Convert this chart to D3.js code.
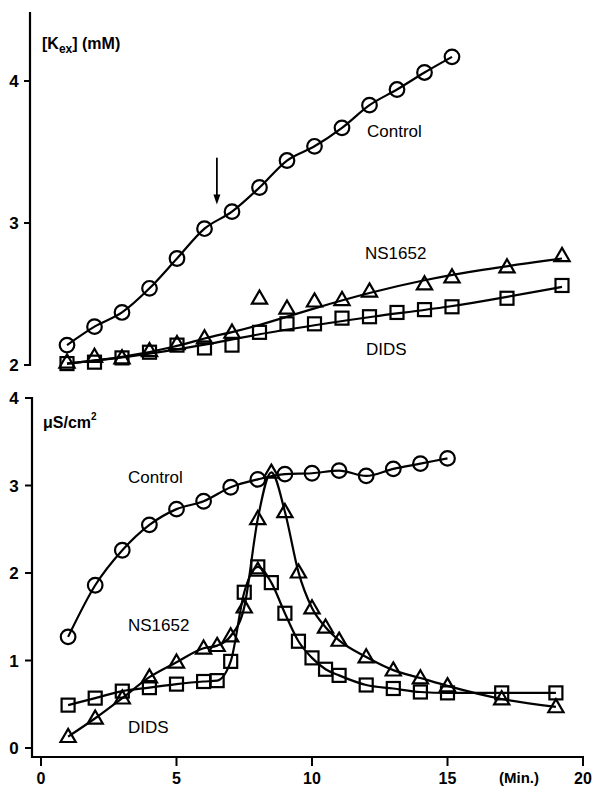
<!DOCTYPE html>
<html>
<head>
<meta charset="utf-8">
<script src="https://cdn.jsdelivr.net/npm/d3@7"></script>
<style>
  body { margin: 0; background: #fff; }
  text { font-family: "Liberation Sans", Arial, sans-serif; fill: #000; }
</style>
</head>
<body>
<svg id="chart"></svg>
<script>
// ---- data (top panel: [Kex], mM) ----
const topCtrlX = [1,2,3,4,5,6,7,8,9,10,11,12,13,14,15];
const topCtrlY = [2.14,2.27,2.37,2.54,2.75,2.96,3.08,3.25,3.44,3.54,3.67,3.83,3.94,4.06,4.17];
const topNsX = [1,2,3,4,5,6,7,8,9,10,11,12,14,15,17,19];
const topNsY = [2.02,2.06,2.05,2.10,2.15,2.19,2.23,2.47,2.40,2.45,2.46,2.52,2.57,2.62,2.69,2.77];
const topDidsX = [1,2,3,4,5,6,7,8,9,10,11,12,13,14,15,17,19];
const topDidsY = [2.01,2.02,2.05,2.09,2.14,2.12,2.14,2.23,2.29,2.29,2.33,2.34,2.37,2.39,2.41,2.47,2.56];
// fitted curves drawn in the top panel
const fitNsX = [1,3,5,6,7,8,10,12,14,16,19];
const fitNsY = [2.01,2.05,2.13,2.19,2.23,2.28,2.40,2.51,2.60,2.67,2.75];
const fitDidsX = [1,3,5,6,8,10,12,15,17,19];
const fitDidsY = [2.01,2.05,2.11,2.14,2.22,2.28,2.34,2.41,2.48,2.55];
// arrow (time of drug addition)
const arrowX = 6.45;
const arrowY = [3.46, 3.13];

// ---- data (bottom panel: conductance, uS/cm2) ----
const botCtrlX = [1,2,3,4,5,6,7,8,9,10,11,12,13,14,15];
const botCtrlY = [1.27,1.86,2.26,2.55,2.73,2.82,2.98,3.07,3.13,3.14,3.17,3.11,3.19,3.25,3.31];
const botNsX = [1,2,3,4,5,6,6.5,7,7.5,8,8.5,9,9.5,10,10.5,11,12,13,14,15,17,19];
const botNsY = [0.13,0.34,0.57,0.81,0.98,1.14,1.17,1.28,1.61,2.62,3.15,2.70,2.01,1.60,1.38,1.23,1.04,0.89,0.80,0.71,0.56,0.47];
const botDidsX = [1,2,3,4,5,6,6.5,7,7.5,8,8.5,9,9.5,10,10.5,11,12,13,14,15,17,19];
const botDidsY = [0.49,0.57,0.65,0.69,0.73,0.76,0.77,0.99,1.78,2.07,1.89,1.54,1.22,1.03,0.90,0.83,0.72,0.68,0.64,0.63,0.63,0.63];
const botExtraTriX = [8];
const botExtraTriY = [2.03];

const xTicks = [0,5,10,15,20];
const topYTicks = [2,3,4];
const botYTicks = [0,1,2,3,4];

const W = 596, H = 790;
const svg = d3.select("#chart").attr("width", W).attr("height", H);

const zip = (xs, ys) => xs.map((x, i) => [x, ys[i]]);

// scales
const xTop = d3.scaleLinear().domain([0, 20]).range([39.5, 589.5]);
const yTop = d3.scaleLinear().domain([2, 4]).range([365, 81]);
const xBot = d3.scaleLinear().domain([0, 20]).range([41, 583]);
const yBot = d3.scaleLinear().domain([0, 4]).range([748, 398]);

// markers
function drawMarkers(g, pts, x, y, shape) {
  const sel = g.append("g").selectAll("path").data(pts).enter();
  if (shape === "circle") {
    sel.append("circle")
      .attr("cx", d => x(d[0])).attr("cy", d => y(d[1])).attr("r", 7.3)
      .attr("fill", "none").attr("stroke", "#000").attr("stroke-width", 2.2);
  } else if (shape === "square") {
    sel.append("rect")
      .attr("x", d => x(d[0]) - 6.5).attr("y", d => y(d[1]) - 6.5)
      .attr("width", 13).attr("height", 13)
      .attr("fill", "none").attr("stroke", "#000").attr("stroke-width", 2.2);
  } else {
    sel.append("path")
      .attr("d", d3.symbol(d3.symbolTriangle, 100))
      .attr("transform", d => `translate(${x(d[0])},${y(d[1]) + 1})`)
      .attr("fill", "none").attr("stroke", "#000").attr("stroke-width", 2.2);
  }
}

function drawLine(g, pts, x, y, curve) {
  g.append("path")
    .datum(pts)
    .attr("d", d3.line().x(d => x(d[0])).y(d => y(d[1])).curve(curve))
    .attr("fill", "none").attr("stroke", "#000").attr("stroke-width", 2.2);
}

// ---------- top panel ----------
const gTop = svg.append("g");

gTop.append("line").attr("x1", 30).attr("x2", 30).attr("y1", 12).attr("y2", 366)
  .attr("stroke", "#000").attr("stroke-width", 2.2);
gTop.selectAll(".tt").data(topYTicks).enter().append("line")
  .attr("x1", 24).attr("x2", 30).attr("y1", d => yTop(d)).attr("y2", d => yTop(d))
  .attr("stroke", "#000").attr("stroke-width", 2);
gTop.selectAll(".tl").data(topYTicks).enter().append("text")
  .attr("x", 14).attr("y", d => yTop(d) + 6)
  .attr("text-anchor", "middle").attr("font-size", 17).attr("font-weight", "bold")
  .text(d => d);

const kLabel = gTop.append("text").attr("x", 42).attr("y", 49)
  .attr("font-size", 16).attr("font-weight", "bold");
kLabel.append("tspan").text("[K");
kLabel.append("tspan").attr("font-size", 12).attr("dy", 4).text("ex");
kLabel.append("tspan").attr("dy", -4).text("] (mM)");

drawLine(gTop, zip(topCtrlX, topCtrlY), xTop, yTop, d3.curveMonotoneX);
drawLine(gTop, zip(fitNsX, fitNsY), xTop, yTop, d3.curveBasis);
drawLine(gTop, zip(fitDidsX, fitDidsY), xTop, yTop, d3.curveBasis);
drawMarkers(gTop, zip(topCtrlX, topCtrlY), xTop, yTop, "circle");
drawMarkers(gTop, zip(topDidsX, topDidsY), xTop, yTop, "square");
drawMarkers(gTop, zip(topNsX, topNsY), xTop, yTop, "triangle");

// arrow
gTop.append("line")
  .attr("x1", xTop(arrowX)).attr("x2", xTop(arrowX))
  .attr("y1", yTop(arrowY[0])).attr("y2", yTop(arrowY[1]) - 8)
  .attr("stroke", "#000").attr("stroke-width", 1.8);
gTop.append("path")
  .attr("d", `M${xTop(arrowX) - 3.5},${yTop(arrowY[1]) - 10} L${xTop(arrowX) + 3.5},${yTop(arrowY[1]) - 10} L${xTop(arrowX)},${yTop(arrowY[1])} Z`)
  .attr("fill", "#000");

gTop.append("text").attr("x", 367).attr("y", 137).attr("font-size", 17).text("Control");
gTop.append("text").attr("x", 365).attr("y", 259).attr("font-size", 17).text("NS1652");
gTop.append("text").attr("x", 366).attr("y", 355).attr("font-size", 17).text("DIDS");

// ---------- bottom panel ----------
const gBot = svg.append("g");

gBot.append("line").attr("x1", 32).attr("x2", 32).attr("y1", 397).attr("y2", 758)
  .attr("stroke", "#000").attr("stroke-width", 2.2);
gBot.append("line").attr("x1", 31).attr("x2", xBot(20) + 1).attr("y1", 757).attr("y2", 757)
  .attr("stroke", "#000").attr("stroke-width", 2.2);
gBot.selectAll(".yt").data(botYTicks).enter().append("line")
  .attr("x1", 25).attr("x2", 32).attr("y1", d => yBot(d)).attr("y2", d => yBot(d))
  .attr("stroke", "#000").attr("stroke-width", 2);
gBot.selectAll(".yl").data(botYTicks).enter().append("text")
  .attr("x", 14).attr("y", d => yBot(d) + 6)
  .attr("text-anchor", "middle").attr("font-size", 17).attr("font-weight", "bold")
  .text(d => d);
gBot.selectAll(".xt").data(xTicks).enter().append("line")
  .attr("x1", d => xBot(d)).attr("x2", d => xBot(d)).attr("y1", 757).attr("y2", 766)
  .attr("stroke", "#000").attr("stroke-width", 2);
gBot.selectAll(".xl").data(xTicks).enter().append("text")
  .attr("x", d => xBot(d)).attr("y", 784)
  .attr("text-anchor", "middle").attr("font-size", 16).attr("font-weight", "bold")
  .text(d => d);
gBot.append("text").attr("x", 519).attr("y", 783).attr("text-anchor", "middle")
  .attr("font-size", 15).attr("font-weight", "bold").text("(Min.)");

const uLabel = gBot.append("text").attr("x", 43).attr("y", 428)
  .attr("font-size", 16).attr("font-weight", "bold");
uLabel.append("tspan").text("μS/cm");
uLabel.append("tspan").attr("font-size", 10).attr("dy", -8).text("2");

drawLine(gBot, zip(botCtrlX, botCtrlY), xBot, yBot, d3.curveMonotoneX);
drawLine(gBot, zip(botNsX, botNsY), xBot, yBot, d3.curveMonotoneX);
drawLine(gBot, zip(botDidsX, botDidsY), xBot, yBot, d3.curveMonotoneX);
drawMarkers(gBot, zip(botCtrlX, botCtrlY), xBot, yBot, "circle");
drawMarkers(gBot, zip(botDidsX, botDidsY), xBot, yBot, "square");
drawMarkers(gBot, zip(botNsX, botNsY), xBot, yBot, "triangle");
drawMarkers(gBot, zip(botExtraTriX, botExtraTriY), xBot, yBot, "triangle");

gBot.append("text").attr("x", 128).attr("y", 483).attr("font-size", 17).text("Control");
gBot.append("text").attr("x", 128).attr("y", 631).attr("font-size", 17).text("NS1652");
gBot.append("text").attr("x", 128).attr("y", 733).attr("font-size", 17).text("DIDS");
</script>
</body>
</html>
